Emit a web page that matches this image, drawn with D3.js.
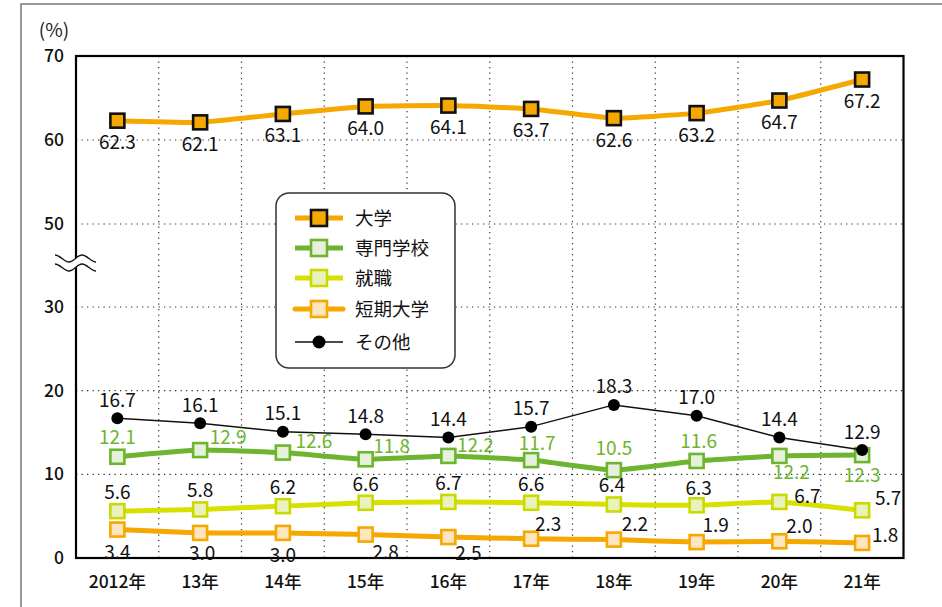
<!DOCTYPE html>
<html>
<head>
<meta charset="utf-8">
<script src="https://cdn.jsdelivr.net/npm/d3@7"></script>
<style>
  html, body { margin: 0; padding: 0; background: #fff; }
  svg { display: block; font-family: "Noto Sans CJK JP", "Noto Sans", sans-serif; }
</style>
</head>
<body>
<svg id="chart" width="942" height="607"></svg>
<script>
// Categories and tick labels
const years = ["2012年", "13年", "14年", "15年", "16年", "17年", "18年", "19年", "20年", "21年"];
const yTicks = [0, 10, 20, 30, 50, 60, 70];

// Series values (%)
const daigaku  = [62.3, 62.1, 63.1, 64.0, 64.1, 63.7, 62.6, 63.2, 64.7, 67.2];
const senmon   = [12.1, 12.9, 12.6, 11.8, 12.2, 11.7, 10.5, 11.6, 12.2, 12.3];
const shushoku = [5.6, 5.8, 6.2, 6.6, 6.7, 6.6, 6.4, 6.3, 6.7, 5.7];
const tandai   = [3.4, 3.0, 3.0, 2.8, 2.5, 2.3, 2.2, 1.9, 2.0, 1.8];
const sonota   = [16.7, 16.1, 15.1, 14.8, 14.4, 15.7, 18.3, 17.0, 14.4, 12.9];

// Value-label offsets from each marker (dx, dy of the label centre)
const daigakuLabelOffset  = years.map(() => [0, 22]);
const sonotaLabelOffset   = years.map(() => [0, -18]);
const senmonLabelOffset   = [[0,-19],[28,-13],[31,-11],[26,-13],[27,-10],[6,-17],[0,-22],[2,-19],[12,17],[0,20]];
const shushokuLabelOffset = [[0,-19],[0,-19],[0,-19],[0,-18],[0,-18],[0,-18],[-2,-19],[2,-17],[28,-5],[26,-12]];
const tandaiLabelOffset   = [[0,23],[2,21],[0,23],[20,18],[20,16],[17,-14],[21,-15],[19,-17],[20,-15],[23,-7]];

const series = [
  { name: "大学",     values: daigaku,  line: "#F5A800", width: 5,   marker: "square", fill: "#F5A800", stroke: "#111", sw: 2.6, label: "#111",    offs: daigakuLabelOffset },
  { name: "専門学校", values: senmon,   line: "#6DB52E", width: 5,   marker: "square", fill: "#E7F0DA", stroke: "#6DB52E", sw: 2.6, label: "#6DB52E", offs: senmonLabelOffset },
  { name: "就職",     values: shushoku, line: "#D8E000", width: 5,   marker: "square", fill: "#EAF1BC", stroke: "#C9DA00", sw: 2.6, label: "#111",    offs: shushokuLabelOffset },
  { name: "短期大学", values: tandai,   line: "#F5A800", width: 5,   marker: "square", fill: "#FDE5C0", stroke: "#F5A800", sw: 2.6, label: "#111",    offs: tandaiLabelOffset },
  { name: "その他",   values: sonota,   line: "#111",    width: 1.5, marker: "dot",    fill: "#000",    stroke: "#000",    sw: 0,   label: "#111",    offs: sonotaLabelOffset }
];

const svg = d3.select("#chart");
const plot = { left: 76, right: 903.5, top: 56, bottom: 558 };

// Band scale for years; broken linear scale (40 is skipped between 30 and 50)
const x = d3.scaleBand().domain(years).range([plot.left, plot.right]);
const cx = d => x(d) + x.bandwidth() / 2;
const y = d3.scaleLinear().domain([0, 30, 50, 70]).range([558, 307, 224, 56]);

// Outer page frame
svg.append("path")
  .attr("d", "M21,607 L21,4 L942,4")
  .attr("fill", "none").attr("stroke", "#777").attr("stroke-width", 1.5);

// Dotted grid
const grid = svg.append("g").attr("stroke", "#333").attr("stroke-width", 1.2)
  .attr("stroke-dasharray", "1.3,4.2");
grid.selectAll("line.h").data(yTicks.filter(t => t > 0 && t < 70)).join("line")
  .attr("x1", plot.left).attr("x2", plot.right)
  .attr("y1", d => y(d)).attr("y2", d => y(d));
grid.selectAll("line.v").data(years.slice(1)).join("line")
  .attr("x1", d => x(d)).attr("x2", d => x(d))
  .attr("y1", plot.top).attr("y2", plot.bottom);

// Plot frame
svg.append("rect")
  .attr("x", plot.left).attr("y", plot.top)
  .attr("width", plot.right - plot.left).attr("height", plot.bottom - plot.top)
  .attr("fill", "none").attr("stroke", "#000").attr("stroke-width", 2.2);

// Y axis labels
svg.append("g").selectAll("text").data(yTicks).join("text")
  .attr("x", 64).attr("y", d => y(d) + 6)
  .attr("text-anchor", "end").attr("font-size", 17.5).attr("font-weight", 500)
  .attr("fill", "#111").text(d => d);

svg.append("text").attr("x", 54).attr("y", 37).attr("text-anchor", "middle")
  .attr("font-size", 19).attr("fill", "#222").text("(%)");

// X axis labels
svg.append("g").selectAll("text").data(years).join("text")
  .attr("x", d => cx(d)).attr("y", 588)
  .attr("text-anchor", "middle").attr("font-size", 17.5).attr("font-weight", 500)
  .attr("fill", "#111").text(d => d);

// Axis break mark
const wave = (x0, y0) => `M${x0},${y0} c5,0 9,7 14,7 s8,-7 13,-7 s9,7 14,7`;
const yb = 255;
svg.append("path")
  .attr("d", `M55,${yb} c5,0 9,7 14,7 s8,-7 13,-7 s9,7 14,7 L96,${yb + 16} c-5,0 -9,-7 -14,-7 s-8,7 -13,7 s-9,-7 -14,-7 Z`)
  .attr("fill", "#fff").attr("stroke", "none");
svg.append("path").attr("d", wave(55, yb)).attr("fill", "none").attr("stroke", "#111").attr("stroke-width", 1.4);
svg.append("path").attr("d", wave(55, yb + 9)).attr("fill", "none").attr("stroke", "#111").attr("stroke-width", 1.4);

// Lines
const lineGen = d3.line().x((d, i) => cx(years[i])).y(d => y(d));
const drawOrder = [0, 3, 2, 1, 4];
const mark = 14;
drawOrder.forEach(k => {
  const s = series[k];
  const g = svg.append("g");
  g.append("path").datum(s.values)
    .attr("d", lineGen.curve(s.marker === "dot" ? d3.curveLinear : d3.curveCardinal.tension(0.6)))
    .attr("fill", "none").attr("stroke", s.line).attr("stroke-width", s.width)
    .attr("stroke-linejoin", "round");
  if (s.marker === "square") {
    g.selectAll("rect").data(s.values).join("rect")
      .attr("x", (d, i) => cx(years[i]) - mark / 2).attr("y", d => y(d) - mark / 2)
      .attr("width", mark).attr("height", mark)
      .attr("fill", s.fill).attr("stroke", s.stroke).attr("stroke-width", s.sw);
  } else {
    g.selectAll("circle").data(s.values).join("circle")
      .attr("cx", (d, i) => cx(years[i])).attr("cy", d => y(d)).attr("r", 6)
      .attr("fill", s.fill);
  }
});

// Value labels
series.forEach(s => {
  svg.append("g").selectAll("text").data(s.values).join("text")
    .attr("x", (d, i) => cx(years[i]) + s.offs[i][0])
    .attr("y", (d, i) => y(d) + s.offs[i][1] + 6.5)
    .attr("text-anchor", "middle").attr("font-size", 19)
    .attr("fill", s.label).text(d => d.toFixed(1));
});

// Legend
const lg = svg.append("g");
lg.append("rect").attr("x", 276).attr("y", 193).attr("width", 179).attr("height", 175)
  .attr("rx", 13).attr("fill", "#fff").attr("stroke", "#333").attr("stroke-width", 1.5);
const rowY = [218, 248, 278, 309, 342];
series.forEach((s, i) => {
  const ry = rowY[i];
  lg.append("line").attr("x1", 295).attr("x2", 343).attr("y1", ry).attr("y2", ry)
    .attr("stroke", s.line).attr("stroke-width", s.width)
    .attr("stroke-linecap", s.name === "短期大学" ? "round" : "butt");
  if (s.marker === "square") {
    lg.append("rect").attr("x", 319 - 8).attr("y", ry - 8).attr("width", 16).attr("height", 16)
      .attr("fill", s.fill).attr("stroke", s.stroke).attr("stroke-width", s.sw);
  } else {
    lg.append("circle").attr("cx", 319).attr("cy", ry).attr("r", 6.5).attr("fill", s.fill);
  }
  lg.append("text").attr("x", 355).attr("y", ry + 6.5).attr("font-size", 18.5)
    .attr("fill", "#111").text(s.name);
});
</script>
</body>
</html>
